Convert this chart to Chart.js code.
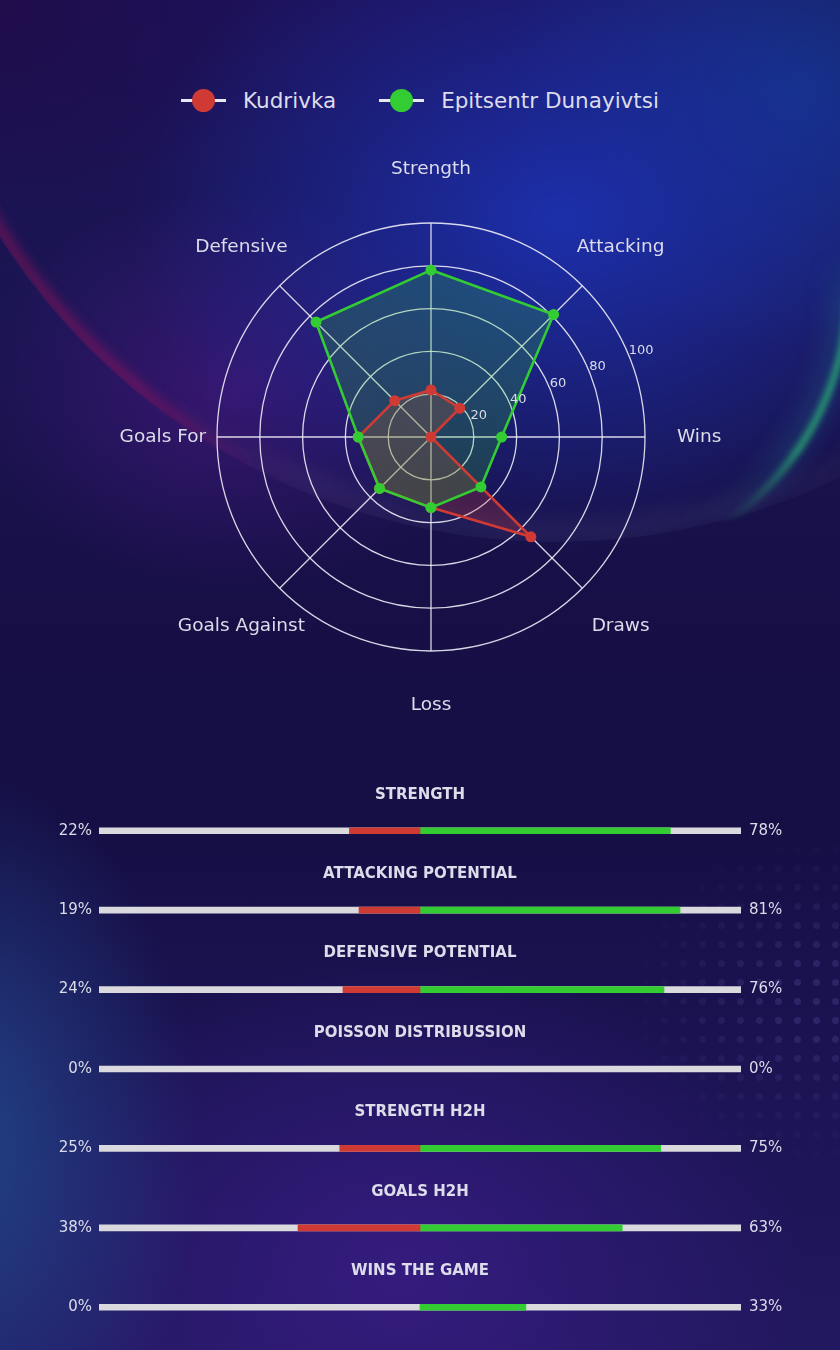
<!DOCTYPE html>
<html>
<head>
<meta charset="utf-8">
<script src="https://cdn.jsdelivr.net/npm/chart.js@4.4.0/dist/chart.umd.min.js"></script>
<style>
html, body { margin: 0; padding: 0; }
body {
    width: 840px; height: 1350px; position: relative; overflow: hidden;
    font-family: "DejaVu Sans", sans-serif;
    background:
        radial-gradient(ellipse 430px 330px at 560px 220px, rgba(28,48,175,0.95), rgba(28,48,175,0) 100%),
        radial-gradient(ellipse 300px 260px at 800px 90px, rgba(18,58,140,0.8), rgba(18,58,140,0) 100%),
        radial-gradient(ellipse 260px 200px at 230px 390px, rgba(75,25,135,0.6), rgba(75,25,135,0) 100%),
        radial-gradient(ellipse 260px 220px at 0px 0px, rgba(32,10,70,0.7), rgba(32,10,70,0) 100%),
        radial-gradient(ellipse 240px 380px at -40px 1150px, rgba(35,75,145,0.85), rgba(35,75,145,0) 100%),
        radial-gradient(ellipse 400px 320px at 400px 1270px, rgba(55,28,130,0.9), rgba(55,28,130,0) 100%),
        linear-gradient(180deg, #1d1158 0px, #1a1552 300px, #170f46 620px, #150f45 820px, #1b1352 1050px, #22185f 1350px);
}
.streak { position: absolute; pointer-events: none; }
#redArc {
    left: -104px; top: -778px; width: 1320px; height: 1320px; border-radius: 50%;
    background: radial-gradient(circle, transparent 645px, rgba(165,20,90,0.7) 660px, transparent 675px);
    -webkit-mask-image: linear-gradient(90deg, #000 0px, #000 240px, transparent 370px);
    filter: blur(5px);
}
#hazeArc {
    left: -104px; top: -778px; width: 1320px; height: 1320px; border-radius: 50%;
    background: radial-gradient(circle, transparent 630px, rgba(190,190,225,0.14) 662px, transparent 695px);
    -webkit-mask-image: linear-gradient(90deg, transparent 260px, #000 420px, #000 740px, rgba(0,0,0,0.6) 944px);
    filter: blur(10px);
}
#greenBox {
    left: 680px; top: 250px; width: 160px; height: 320px; overflow: hidden;
    -webkit-mask-image: linear-gradient(180deg, transparent 0px, #000 55px, #000 200px, transparent 275px);
}
#greenBox div { position: absolute; left: -424px; top: -265px; width: 600px; height: 600px; border-radius: 50%; }
#greenGlow {
    background: radial-gradient(circle, transparent 265px, rgba(40,150,160,0.25) 293px, transparent 315px);
    filter: blur(10px);
}
#greenArc {
    background: radial-gradient(circle, transparent 286px, rgba(45,195,120,0.75) 293px, transparent 299px);
    filter: blur(2.5px);
}
#dots {
    left: 560px; top: 840px; width: 280px; height: 320px;
    background-image: radial-gradient(circle, rgba(120,110,200,0.2) 3px, transparent 4px);
    background-size: 19px 19px;
    -webkit-mask-image: radial-gradient(ellipse 200px 170px at 260px 160px, #000 20%, transparent 100%);
}
#legend {
    position: absolute; left: 0; top: 84px; width: 840px; height: 32px;
    display: flex; justify-content: center; align-items: center; gap: 43px;
    color: #dcdcec; font-size: 21.5px;
}
.item { display: flex; align-items: center; gap: 17px; }
.marker { position: relative; width: 45px; height: 24px; }
.marker::before { content: ""; position: absolute; left: 0; right: 0; top: 11px; height: 3px; background: #e8e8f2; }
.marker span { position: absolute; left: 11px; top: 1px; width: 23px; height: 23px; border-radius: 50%; }
#radar { position: absolute; left: 0; top: 0; }
#bars { position: absolute; left: 0; top: 750px; }
</style>
</head>
<body>
<div class="streak" id="redArc"></div>
<div class="streak" id="hazeArc"></div>
<div class="streak" id="greenBox"><div id="greenGlow"></div><div id="greenArc"></div></div>
<div class="streak" id="dots"></div>
<div id="legend"></div>
<canvas id="radar" width="840" height="740"></canvas>
<canvas id="bars" width="840" height="600"></canvas>
<script>
// teams
const teams = ['Kudrivka', 'Epitsentr Dunayivtsi'];
const teamColors = ['#d03a34', '#33cc33'];

// radar
const axes = ['Strength', 'Attacking', 'Wins', 'Draws', 'Loss', 'Goals Against', 'Goals For', 'Defensive'];
const kudrivkaRadar = [22, 19, 0, 66, 33, 34, 34, 24];
const epitsentrRadar = [78, 81, 33, 33, 33, 34, 34, 76];
const radarTicks = [20, 40, 60, 80, 100];

// comparison bars
const barTitles = ['STRENGTH', 'ATTACKING POTENTIAL', 'DEFENSIVE POTENTIAL', 'POISSON DISTRIBUSSION', 'STRENGTH H2H', 'GOALS H2H', 'WINS THE GAME'];
const kudrivkaPct = [22, 19, 24, 0, 25, 38, 0];
const epitsentrPct = [78, 81, 76, 0, 75, 63, 33];

const textColor = '#dcdcea';
const gridColor = 'rgba(236,236,246,0.9)';
const trackColor = '#d9d9de';

// legend
const legend = document.getElementById('legend');
teams.forEach((name, i) => {
    const item = document.createElement('div');
    item.className = 'item';
    item.innerHTML = '<div class="marker"><span style="background:' + teamColors[i] + '"></span></div><div>' + name + '</div>';
    legend.appendChild(item);
});

function hexA(hex, a) {
    const n = parseInt(hex.slice(1), 16);
    return 'rgba(' + (n >> 16) + ',' + ((n >> 8) & 255) + ',' + (n & 255) + ',' + a + ')';
}

// labels round the radar, placed like matplotlib does it
const radarText = {
    id: 'radarText',
    afterDraw(chart) {
        const r = chart.scales.r;
        const ctx = chart.ctx;
        ctx.save();
        ctx.fillStyle = textColor;
        ctx.font = '18.5px "DejaVu Sans"';
        ctx.textAlign = 'center';
        ctx.textBaseline = 'middle';
        axes.forEach((lab, i) => {
            const p = r.getPointPositionForValue(i, 125.3);
            ctx.fillText(lab, p.x, p.y);
        });
        ctx.font = '13px "DejaVu Sans"';
        ctx.textAlign = 'left';
        ctx.textBaseline = 'bottom';
        const a = -22.5 * Math.PI / 180;
        radarTicks.forEach(v => {
            const d = r.getDistanceFromCenterForValue(v);
            ctx.fillText(String(v), r.xCenter + d * Math.cos(a), r.yCenter + d * Math.sin(a) + 2);
        });
        ctx.restore();
    }
};

new Chart(document.getElementById('radar'), {
    type: 'radar',
    data: {
        labels: axes,
        datasets: [
            {
                label: teams[0], data: kudrivkaRadar, order: 1,
                borderColor: teamColors[0], backgroundColor: hexA(teamColors[0], 0.25),
                pointBackgroundColor: teamColors[0], pointBorderWidth: 0, pointRadius: 5.5,
                borderWidth: 2.6, fill: true
            },
            {
                label: teams[1], data: epitsentrRadar, order: 0,
                borderColor: teamColors[1], backgroundColor: hexA(teamColors[1], 0.22),
                pointBackgroundColor: teamColors[1], pointBorderWidth: 0, pointRadius: 5.5,
                borderWidth: 2.6, fill: true
            }
        ]
    },
    options: {
        responsive: false,
        animation: false,
        layout: { padding: { left: 217, right: 195, top: 223, bottom: 89 } },
        plugins: {
            legend: { display: false },
            tooltip: { enabled: false },
            filler: { drawTime: 'beforeDatasetsDraw' }
        },
        scales: {
            r: {
                min: 0, max: 100,
                ticks: { display: false, stepSize: 20 },
                pointLabels: { display: false },
                grid: { color: gridColor, lineWidth: 1.3, circular: true },
                angleLines: { color: gridColor, lineWidth: 1.3 }
            }
        }
    },
    plugins: [radarText]
});

// titles and percentages round the bars
const barText = {
    id: 'barText',
    afterDraw(chart) {
        const ctx = chart.ctx;
        const x = chart.scales.x, y = chart.scales.y;
        const area = chart.chartArea;
        ctx.save();
        ctx.fillStyle = textColor;
        ctx.textBaseline = 'middle';
        barTitles.forEach((t, i) => {
            const py = y.getPixelForValue(i);
            ctx.font = 'bold 15px "DejaVu Sans"';
            ctx.textAlign = 'center';
            ctx.fillText(t, x.getPixelForValue(0), py - 36);
            ctx.font = '15px "DejaVu Sans"';
            ctx.textAlign = 'right';
            ctx.fillText(kudrivkaPct[i] + '%', area.left - 7, py);
            ctx.textAlign = 'left';
            ctx.fillText(epitsentrPct[i] + '%', area.right + 8, py);
        });
        ctx.restore();
    }
};

new Chart(document.getElementById('bars'), {
    type: 'bar',
    data: {
        labels: barTitles,
        datasets: [
            { data: barTitles.map(() => [-100, 100]), backgroundColor: trackColor, order: 2 },
            { data: kudrivkaPct.map(v => v ? [-v, 0] : null), backgroundColor: teamColors[0], order: 1 },
            { data: epitsentrPct.map(v => v ? [0, v] : null), backgroundColor: teamColors[1], order: 1 }
        ]
    },
    options: {
        indexAxis: 'y',
        responsive: false,
        animation: false,
        datasets: { bar: { grouped: false, barThickness: 6, borderWidth: 0, borderSkipped: false } },
        layout: { padding: { left: 99, right: 99, top: 41, bottom: 3 } },
        plugins: { legend: { display: false }, tooltip: { enabled: false } },
        scales: {
            x: { display: false, min: -100, max: 100 },
            y: { display: false }
        }
    },
    plugins: [barText]
});
</script>
</body>
</html>
